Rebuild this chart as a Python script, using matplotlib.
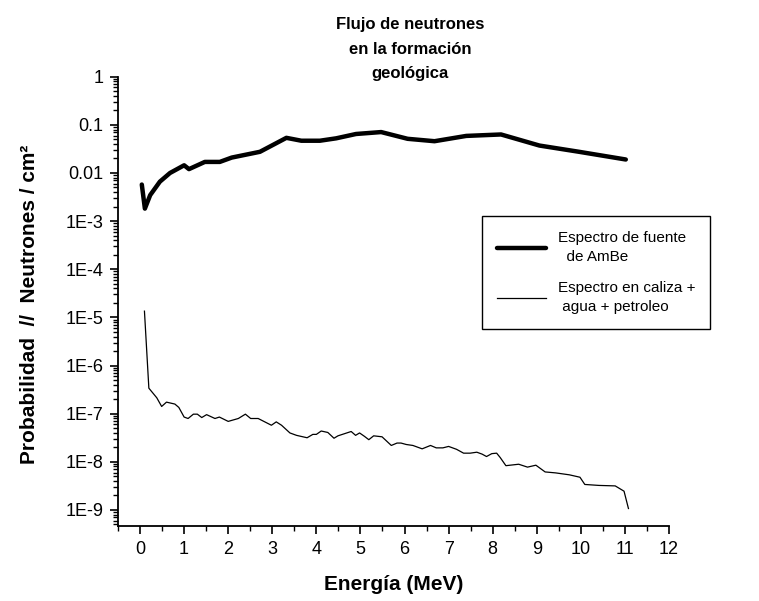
import matplotlib
matplotlib.use("Agg")
import matplotlib.pyplot as plt
from matplotlib.ticker import FixedLocator, FuncFormatter, LogLocator, MultipleLocator, NullFormatter

plt.rcParams['font.family'] = ['Liberation Sans', 'DejaVu Sans']

# AmBe source spectrum (thick line)
ambe_e = [0.04, 0.11, 0.23, 0.45, 0.68, 1.0, 1.11, 1.47, 1.81, 2.08, 2.72, 3.32, 3.66,
          4.08, 4.45, 4.9, 5.47, 6.07, 6.68, 7.4, 8.19, 9.06, 9.96, 11.02]
ambe_log = [-2.24, -2.74, -2.46, -2.18, -2.0, -1.84, -1.92, -1.77, -1.77, -1.68, -1.56, -1.27, -1.33,
            -1.33, -1.28, -1.19, -1.15, -1.29, -1.34, -1.23, -1.20, -1.43, -1.56, -1.72]

# spectrum in limestone + water + oil (thin line)
roca_e = [0.1, 0.2, 0.38, 0.49, 0.6, 0.79, 0.88, 1.0, 1.09, 1.21, 1.3, 1.4, 1.51, 1.7, 1.8,
          2.0, 2.23, 2.39, 2.51, 2.68, 2.83, 2.98, 3.09, 3.21, 3.4, 3.55, 3.79, 3.92, 4.0,
          4.11, 4.26, 4.4, 4.49, 4.79, 4.89, 4.98, 5.09, 5.19, 5.3, 5.49, 5.7, 5.83, 5.92,
          6.04, 6.19, 6.4, 6.59, 6.72, 6.87, 7.0, 7.18, 7.34, 7.49, 7.64, 7.76, 7.86, 7.98,
          8.09, 8.17, 8.3, 8.59, 8.79, 8.98, 9.19, 9.43, 9.74, 9.98, 10.09, 10.41, 10.78,
          10.98, 11.08]
roca_log = [-4.87, -6.47, -6.67, -6.85, -6.76, -6.80, -6.87, -7.07, -7.10, -7.01, -7.01, -7.08,
            -7.02, -7.10, -7.07, -7.16, -7.10, -7.01, -7.10, -7.10, -7.17, -7.24, -7.17, -7.24,
            -7.40, -7.45, -7.50, -7.43, -7.43, -7.36, -7.39, -7.51, -7.46, -7.37, -7.45, -7.40,
            -7.47, -7.54, -7.46, -7.48, -7.66, -7.61, -7.61, -7.64, -7.66, -7.73, -7.66, -7.71,
            -7.71, -7.68, -7.74, -7.82, -7.82, -7.80, -7.84, -7.89, -7.83, -7.82, -7.91, -8.08,
            -8.05, -8.11, -8.07, -8.21, -8.23, -8.27, -8.32, -8.47, -8.49, -8.50, -8.61, -8.97]

ambe = [10 ** v for v in ambe_log]
roca = [10 ** v for v in roca_log]

y_ticks = [1, 0.1, 0.01, 1e-3, 1e-4, 1e-5, 1e-6, 1e-7, 1e-8, 1e-9]
y_labels = ["1", "0.1", "0.01", "1E-3", "1E-4", "1E-5", "1E-6", "1E-7", "1E-8", "1E-9"]

fig = plt.figure(figsize=(7.59, 6.01), dpi=100)
ax = fig.add_axes([118 / 759, 1 - 526 / 601, (669 - 118) / 759, (526 - 76.7) / 601])

ax.plot(ambe_e, ambe, color="black", lw=3.2, solid_joinstyle="round", solid_capstyle="round",
        label="Espectro de fuente\n  de AmBe")
ax.plot(roca_e, roca, color="black", lw=0.9, label="Espectro en caliza +\n agua + petroleo")

ax.set_yscale("log")
ax.set_xlim(-0.5, 12)
ax.set_ylim(10 ** -9.333, 1)

ax.xaxis.set_major_locator(MultipleLocator(1))
ax.xaxis.set_minor_locator(MultipleLocator(0.5))
ax.yaxis.set_major_locator(FixedLocator(y_ticks))
ax.yaxis.set_major_formatter(FuncFormatter(lambda v, p: y_labels[y_ticks.index(v)] if v in y_ticks else ""))
ax.yaxis.set_minor_locator(LogLocator(base=10, subs=range(2, 10), numticks=30))
ax.yaxis.set_minor_formatter(NullFormatter())

ax.tick_params(which="major", direction="out", length=5.5, width=1.2, labelsize=13, pad=5)
ax.tick_params(which="minor", direction="out", length=3.5, width=1.0)

for s in ["top", "right"]:
    ax.spines[s].set_visible(False)
for s in ["left", "bottom"]:
    ax.spines[s].set_linewidth(1.3)

fig.text(410 / 759, 1 - 49 / 601, "Flujo de neutrones\nen la formación\ngeológica",
         ha="center", va="center", fontsize=12, fontweight="bold", linespacing=1.8)
fig.text(394 / 759, 1 - 584 / 601, "Energía (MeV)", ha="center", va="center",
         fontsize=15, fontweight="bold")
fig.text(30 / 759, 1 - 304 / 601, "Probabilidad  //  Neutrones / cm²", ha="center", va="center",
         rotation=90, fontsize=15, fontweight="bold")

leg = ax.legend(loc="upper left", bbox_to_anchor=(482 / 759, 1 - 216 / 601),
                bbox_transform=fig.transFigure, borderaxespad=0, fancybox=False,
                edgecolor="black", fontsize=11, handlelength=3.2, handletextpad=0.75,
                borderpad=1.0, labelspacing=1.15, framealpha=1)
leg.get_frame().set_linewidth(1.0)
for t in leg.get_texts():
    t.set_linespacing(1.4)

fig.savefig("out.png", dpi=100)
